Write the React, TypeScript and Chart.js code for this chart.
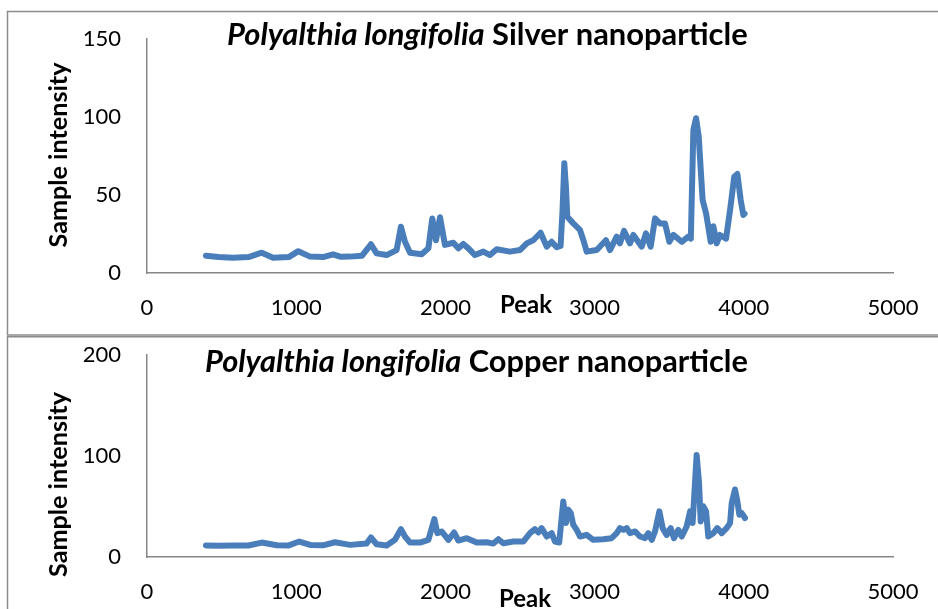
import React, { useEffect, useRef } from "react";
import { Chart, registerables } from "chart.js";

Chart.register(...registerables);

// ---------- data ----------
const silverPeak = [
  395, 480, 576, 680, 769, 845, 950, 1014, 1093, 1180, 1247, 1300, 1361, 1440, 1501, 1539,
  1606, 1673, 1702, 1729, 1763, 1841, 1886, 1912, 1937, 1964, 1997, 2053, 2087, 2120, 2154,
  2198, 2254, 2299, 2344, 2433, 2500, 2545, 2589, 2638, 2679, 2712, 2746, 2772, 2785, 2797,
  2808, 2817, 2857, 2902, 2925, 2947, 3014, 3076, 3103, 3148, 3170, 3197, 3237, 3260, 3316,
  3344, 3376, 3405, 3438, 3472, 3501, 3528, 3584, 3628, 3645, 3662, 3680, 3698, 3706, 3724,
  3747, 3762, 3778, 3796, 3818, 3840, 3881, 3908, 3936, 3957, 3979, 3997, 4005,
];
const silverIntensity = [
  11.1, 10.2, 9.8, 10.2, 13, 9.8, 10.2, 14, 10.5, 10.2, 12, 10.4, 10.5, 11, 18.4, 12.6,
  11.5, 14.7, 29.7, 20, 13, 12, 15.8, 35, 21, 35.7, 18, 19.4, 15.8, 18.6, 15.8,
  11.5, 13.7, 11.5, 15.2, 13.7, 14.7, 19, 21, 25.8, 16.9, 20, 16.5, 17.3, 40, 70.3,
  55, 36, 31.8, 27.6, 21, 13.7, 14.7, 21, 14.7, 23.3, 19, 27, 19, 24.4, 16.9,
  25.4, 16.9, 35, 31.8, 31.8, 20, 24.4, 20, 23.3, 22, 91.7, 99.2, 87.4, 74.5, 46.8,
  38.3, 29.7, 20, 30, 19, 24.4, 22, 40.4, 61.7, 63.5, 46.8, 37.2, 38,
];

const copperPeak = [
  395, 480, 579, 680, 769, 869, 950, 1021, 1093, 1180, 1260, 1361, 1472, 1501, 1539, 1606,
  1662, 1702, 1729, 1763, 1830, 1886, 1926, 1946, 1975, 2020, 2058, 2087, 2143, 2210, 2277,
  2321, 2355, 2388, 2455, 2522, 2567, 2600, 2623, 2645, 2679, 2712, 2735, 2763, 2790, 2808,
  2824, 2840, 2857, 2880, 2902, 2947, 2991, 3058, 3114, 3148, 3170, 3193, 3215, 3237, 3271,
  3304, 3338, 3360, 3383, 3405, 3434, 3456, 3483, 3510, 3532, 3561, 3584, 3617, 3640, 3657,
  3684, 3700, 3711, 3729, 3747, 3762, 3796, 3822, 3852, 3885, 3908, 3919, 3941, 3957, 3970,
  3986, 4008,
];
const copperIntensity = [
  11.5, 11.2, 11.5, 11.4, 14.3, 11.7, 11.5, 15.3, 12, 11.6, 14.6, 12, 13.3, 19.3, 12.6, 11.3,
  17, 27.6, 20.3, 14.3, 14.3, 17, 37.6, 23.6, 25.3, 17, 24.3, 16.3, 18.6, 14.3, 14.6,
  13.3, 17.6, 13.6, 15.3, 15.3, 23.6, 27.6, 24.3, 28.6, 20.3, 23.6, 15.3, 14.3, 55, 33.6,
  46.9, 43.6, 31.9, 26.9, 20.3, 21.9, 17, 17.6, 18.6, 23.6, 28.6, 26.9, 28.6, 23.6, 25.3,
  20.3, 18.6, 23.6, 17, 25.3, 45.2, 28.6, 21.9, 28.6, 18.6, 26.9, 20.3, 30.2, 45.2, 33.6,
  101, 73.5, 35.2, 50.2, 45.2, 20.3, 23.6, 28.6, 23.6, 28.6, 33.6, 53.5, 66.8, 55, 41.9,
  43.5, 38.6,
];

const xMin = 0;
const xMax = 5000;
const xStep = 1000;
const silverYMax = 150;
const silverYStep = 50;
const copperYMax = 200;
const copperYStep = 100;

const speciesName = "Polyalthia longifolia";
const silverTitle = " Silver nanoparticle";
const copperTitle = " Copper nanoparticle";
const xAxisTitle = "Peak";
const yAxisTitle = "Sample intensity";

// ---------- style ----------
const FONT = "Lato, 'Open Sans', sans-serif";
const LINE_COLOR = "#4a7ebb";
const AXIS_COLOR = "#868686";
const FRAME_COLOR = "#8c8c8c";

type PanelProps = {
  top: number;
  height: number;
  areaTop: number;
  areaBottom: number;
  xs: number[];
  ys: number[];
  yMax: number;
  yStep: number;
  titleRest: string;
  titleLeft: number;
  titleRight: number;
  titleBaseline: number;
  yTitleBaseline: number;
  yTitleCenter: number;
  yTitleLen: number;
  peakLeft: number;
  peakRight: number;
  peakBaseline: number;
  frameTop: number;
  frameBottom: number;
};

function fitSize(ctx: CanvasRenderingContext2D, parts: { t: string; f: string }[], target: number) {
  let total = 0;
  for (const p of parts) {
    ctx.font = `${p.f} 20px ${FONT}`;
    total += ctx.measureText(p.t).width;
  }
  return (20 * target) / total;
}

function Panel(p: PanelProps) {
  const ref = useRef<HTMLCanvasElement | null>(null);
  useEffect(() => {
    const canvas = ref.current;
    if (!canvas) return;
    const textPlugin = {
      id: "texts",
      beforeDraw(chart: any) {
        const ctx = chart.ctx as CanvasRenderingContext2D;
        ctx.save();
        ctx.strokeStyle = FRAME_COLOR;
        ctx.lineWidth = 1.5;
        ctx.strokeRect(7.5, p.frameTop, 960, p.frameBottom - p.frameTop);
        ctx.restore();
      },
      afterDraw(chart: any) {
        const ctx = chart.ctx as CanvasRenderingContext2D;
        ctx.save();
        ctx.fillStyle = "#000";
        ctx.textBaseline = "alphabetic";
        const parts = [
          { t: speciesName, f: "italic bold" },
          { t: p.titleRest, f: "bold" },
        ];
        const ts = fitSize(ctx, parts, p.titleRight - p.titleLeft);
        let x = p.titleLeft;
        ctx.textAlign = "left";
        for (const part of parts) {
          ctx.font = `${part.f} ${ts}px ${FONT}`;
          ctx.fillText(part.t, x, p.titleBaseline);
          x += ctx.measureText(part.t).width;
        }
        const ps = fitSize(ctx, [{ t: xAxisTitle, f: "bold" }], p.peakRight - p.peakLeft);
        ctx.font = `bold ${ps}px ${FONT}`;
        ctx.fillText(xAxisTitle, p.peakLeft, p.peakBaseline);
        const ys = fitSize(ctx, [{ t: yAxisTitle, f: "bold" }], p.yTitleLen);
        ctx.font = `bold ${ys}px ${FONT}`;
        ctx.translate(p.yTitleBaseline, p.yTitleCenter);
        ctx.rotate(-Math.PI / 2);
        ctx.textAlign = "center";
        ctx.fillText(yAxisTitle, 0, 0);
        ctx.restore();
      },
    };
    const chart = new Chart(canvas, {
      type: "line",
      data: {
        datasets: [
          {
            data: p.xs.map((v, i) => ({ x: v, y: p.ys[i] })),
            borderColor: LINE_COLOR,
            backgroundColor: LINE_COLOR,
            borderWidth: 6,
            pointRadius: 0,
            tension: 0,
            borderCapStyle: "round",
            borderJoinStyle: "round",
            fill: false,
          },
        ],
      },
      options: {
        animation: false,
        responsive: false,
        maintainAspectRatio: false,
        layout: { autoPadding: false, padding: { top: p.areaTop, right: 45, left: 0, bottom: 0 } },
        plugins: { legend: { display: false }, tooltip: { enabled: false }, title: { display: false } },
        scales: {
          x: {
            type: "linear",
            min: xMin,
            max: xMax,
            grid: { display: false, drawTicks: false },
            border: { display: true, color: AXIS_COLOR, width: 1.5 },
            ticks: {
              stepSize: xStep,
              color: "#000",
              padding: 22,
              font: { family: FONT, size: 22 },
              maxRotation: 0,
              autoSkip: false,
              callback: (v: any) => String(v),
            },
            afterFit(scale: any) {
              scale.height = p.height - p.areaBottom;
              scale.paddingLeft = 0;
              scale.paddingRight = 0;
            },
          },
          y: {
            type: "linear",
            min: 0,
            max: p.yMax,
            grid: { display: false, drawTicks: false },
            border: { display: true, color: AXIS_COLOR, width: 1.5 },
            ticks: {
              stepSize: p.yStep,
              color: "#000",
              padding: 26,
              font: { family: FONT, size: 22 },
              callback: (v: any) => String(v),
            },
            afterFit(scale: any) {
              scale.width = 147;
              scale.paddingTop = 0;
              scale.paddingBottom = 0;
            },
          },
        },
      },
      plugins: [textPlugin],
    } as any);
    return () => chart.destroy();
  }, []);
  return (
    <canvas
      ref={ref}
      width={938}
      height={p.height}
      style={{ position: "absolute", left: 0, top: p.top, width: 938, height: p.height }}
    />
  );
}

export default function App() {
  return (
    <div style={{ position: "absolute", left: 0, top: 0, width: 938, height: 609, background: "#fff", overflow: "hidden" }}>
      <Panel
        top={0}
        height={336}
        areaTop={39}
        areaBottom={273}
        xs={silverPeak}
        ys={silverIntensity}
        yMax={silverYMax}
        yStep={silverYStep}
        titleRest={silverTitle}
        titleLeft={227}
        titleRight={748}
        titleBaseline={45}
        yTitleBaseline={66.5}
        yTitleCenter={155}
        yTitleLen={185}
        peakLeft={500}
        peakRight={552}
        peakBaseline={313}
        frameTop={11.5}
        frameBottom={335}
      />
      <Panel
        top={336}
        height={273}
        areaTop={19}
        areaBottom={221}
        xs={copperPeak}
        ys={copperIntensity}
        yMax={copperYMax}
        yStep={copperYStep}
        titleRest={copperTitle}
        titleLeft={205}
        titleRight={748}
        titleBaseline={35.5}
        yTitleBaseline={67}
        yTitleCenter={148.5}
        yTitleLen={185}
        peakLeft={499}
        peakRight={551}
        peakBaseline={270.5}
        frameTop={0.75}
        frameBottom={300}
      />
    </div>
  );
}
